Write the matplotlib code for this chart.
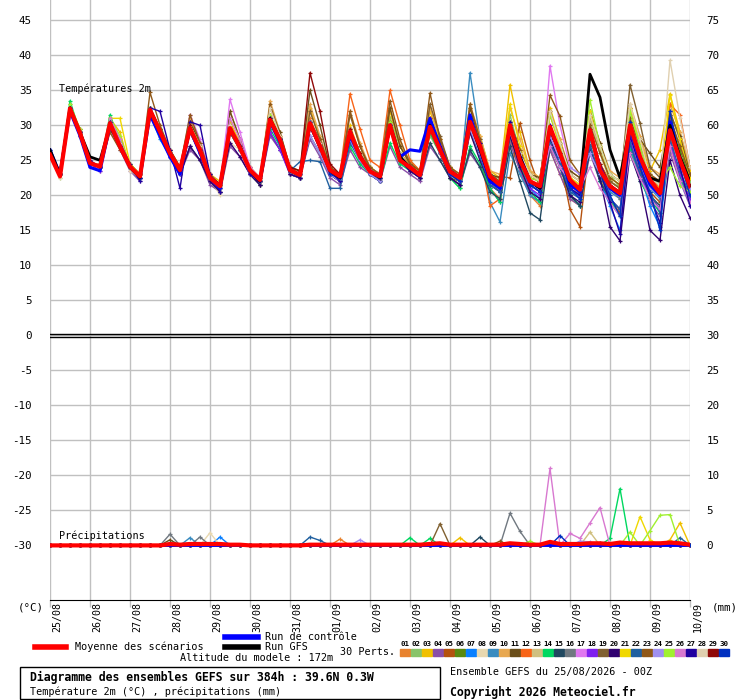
import numpy as np
import matplotlib
matplotlib.use("Agg")
import matplotlib.pyplot as plt
from matplotlib.transforms import ScaledTranslation, blended_transform_factory
from matplotlib.patches import Rectangle
from matplotlib.lines import Line2D

plt.rcParams['font.family'] = ['DejaVu Sans Mono']
plt.rcParams['axes.unicode_minus'] = False

# run steps every 6h, 0..384h
hours = np.arange(0, 385, 6)
dates = ['25/08', '26/08', '27/08', '28/08', '29/08', '30/08', '31/08', '01/09', '02/09',
         '03/09', '04/09', '05/09', '06/09', '07/09', '08/09', '09/09', '10/09']

# temperatures 2m, perturbations 01..30
t01 = [26,23,33,29, 25,24,31,27.5, 24,23,32.5,29, 26,23,30,26.5, 22.5,21,30,27, 23,22,31.5,28, 24,23,31,27.5, 24,22,29.5,26, 23,22,31,26, 24.5,23,31,27, 23,22,29,25.5, 21,19.5,28,23.5, 20,18.5,26.5,23, 19.5,18.5,27,22.5, 19.5,17.5,27,23, 20,18,26.5,23, 19.5]
t02 = [26,22.5,32,29, 24.5,24,30,27, 24.5,23,31.5,28.5, 26,24,29,26, 22,21,29,26.5, 23.5,22,30.5,28, 23,22.5,30,27, 23,22,28,25, 23.5,22,31,27, 25,23.5,28.5,26, 22.5,21,31,27.5, 23,22,31.5,26, 22,21,28,25, 22.5,21.5,30.5,26.5, 23,21,31,26, 23,21.5,30,26, 22]
t03 = [26,23,32.5,29.5, 24.5,24,31,29, 24,23,32,29.5, 26.5,24,30,27, 23,22,30.5,27.5, 24,22.5,31.5,28.5, 24,23.5,32.5,28, 23.5,23,30,26, 24,23,32,27, 24.5,23.5,32,28, 24,23,32.5,28.5, 23.5,22.5,35.8,29, 23.5,22.5,32.5,28, 23,22,31.5,27, 23,22,32.5,28, 23.5,26.5,34.5,29, 23.5]
t04 = [26,23,32,28.5, 24,23.5,29.5,26.5, 23.5,22,31.5,28.5, 25.5,23,26.5,25, 21.5,20.5,27,25.5, 23,21.5,28.5,26.5, 23,22.5,28,25.5, 22.5,21.5,26.5,24, 23,22,27,24, 23,22,27,25, 22.5,21.5,26,24, 21,19,27.5,23.5, 20,19,26.5,23, 19.5,18.5,26,22, 19,17,27,22.5, 19,17,26,22, 18.5]
t05 = [26,23,32.5,29, 24.5,24,30.5,27, 24,22.5,32.5,29.5, 26,23.5,30,27, 23,21.5,29.5,27, 23.5,22,31,28, 23.5,23,30.5,27.5, 23.5,22.5,29,26, 23,22.5,29.5,25.5, 24,23,30,27, 23,22,30,26.5, 22.5,22.7,22.5,30.3, 25,21,28,25, 18,15.5,28,24, 19,17.5,27.5,23.5, 20.5,19,28.5,24.5, 21]
t06 = [26,23,32.5,29, 24.5,24,30,27, 24,22.5,32,28.5, 25.5,23,29,26, 22,20.5,29,26.5, 23,21.5,30.5,27.5, 23,22.5,30,27, 23,22,29,25.5, 24,23,30.5,26, 24,22.5,29,26, 22.5,22,31,27.5, 22,21,30,24, 21.5,20.5,29,26, 22,20,28.5,24.5, 22,21,32,27, 22.5,21,31.5,26.5, 22.5]
t07 = [26.5,23,32.5,28.5, 24.5,24,30,27, 24,23,31.5,28, 25.5,23.5,29.5,26, 22.5,21.5,29.5,27, 23.5,22,31,28, 23.5,23,30,27, 23,22.5,28.5,25.5, 23.5,22.5,30,25.5, 24,23,29.5,26.5, 23.5,22.5,31,27, 22,21,30,25, 21,19.5,27.5,25, 20,18.5,27,22, 18.5,15,27,23, 18.5,15.5,28,22, 19]
t08 = [25.5,22.5,32,28.5, 24,23.5,29.5,27, 23.5,22.5,31.5,28.5, 26,24,30,27, 22.5,20,27.5,26.5, 23.5,22,30.5,27.5, 23.5,23,30,27, 24,23,29.5,26, 23.5,23,30,25.5, 24,23,30.5,26, 23,22,30,26, 22,21.5,29,25.5, 23,22,31.5,27, 22.5,21.5,31,26, 22.5,21.5,32,27, 23,22,32,27.5, 23]
t09 = [26,23,32.5,29, 24.5,24,30.5,27, 24,23,32,29, 26,23.5,29.5,26.5, 22.5,21,29.5,26.5, 23.5,22,31,28, 23,22.5,30,27, 23,22,29,25.5, 23,22,30,25, 24,23,30,26.5, 23,22,37.5,28, 19,16.2,26,23, 20,19,28,24, 20.5,20,28,23.5, 20.5,19.5,29,24, 21,19.5,28,24.5, 20.5]
t10 = [26,23,32.5,29, 24.5,24.5,31,27.5, 24,23,32.5,29.5, 26.5,24,31,27.5, 23,21.5,32,28, 24,22.5,33.5,29, 24,23.5,33,28.5, 24,23,32,27.5, 24,23,32.5,27.5, 24.5,23.5,32.5,28, 24,23,33,28.5, 23.5,23,32.5,28, 23.5,22.5,32,28, 23.5,22.5,32,27.5, 23.5,22.5,33,28.5, 24,23,33,29, 24]
t11 = [26,23,32.5,29.5, 24.5,24,30.5,27.5, 24.5,23,32.5,29.5, 26.5,24,30.5,27.5, 23,21.5,32,28, 24,22.5,32.5,29, 24,23.5,35,30, 24,23,29.5,26, 23.5,23,32.5,27, 24.5,23.5,31,27.5, 23.5,22.5,32.5,27.5, 23,22.5,30.5,26.5, 23,22.5,31.5,27.5, 23.5,22.5,32,27.5, 23,22,32.5,28, 26,24,31.5,28.5, 23]
t12 = [26,23,32.5,29, 24.5,24,30.5,27, 24,23,32,29, 26,23.5,30,26.5, 22.5,21.5,30,27, 23.5,22,31,28, 23.5,23,30.5,27.5, 24,23,34.5,29.5, 25,24,35,30, 25,23.5,31,27, 23.5,22.5,30,26, 18.5,19.5,28,25, 22,21,29.5,26, 22,21,29.5,24.5, 22,21,29.5,25, 22.5,21,33,31.5, 24]
t13 = [26,23,32.5,29, 24.5,24,31,28, 24,23,32,29, 26,23.5,30,27, 22.5,21.5,30,27, 23.5,22.5,31,28, 23.5,23,30.5,27.5, 23.5,22.5,29,26, 23.5,22.5,30,25.5, 24,23,30.5,27, 23.5,22.5,30.5,27, 22.5,21.5,30.5,26, 22,21,29.5,26, 22.5,21.5,31,26, 22,21,31,26.5, 22,20.5,30,25.5, 21.5]
t14 = [26,23,33.5,29, 24.5,24,31.5,27.5, 24,23,32,29, 26,23.5,29.5,26.5, 22.5,21,29.5,26.5, 23.5,22,29.5,27, 23.5,22.5,30,27, 23,22.5,27,24.5, 23,22,27.5,24.5, 23.5,22.5,29,26, 22.5,21,27,24.5, 21,19,28.5,24.5, 20.5,19,27,24, 20,18.5,27,22, 19.5,17,26.5,22, 19.5,17.5,27,22.5, 19]
t15 = [26,23,32,28.5, 24.5,24,30,27, 24,22.5,31.5,28.5, 25.5,23,27,25, 22,21,29,26.5, 23,21.5,29,26.5, 23.5,22.5,28.5,26, 23,22,28.5,25.5, 23,22,29.5,25, 23.5,22.5,27.5,25, 22.5,21.5,26.5,24, 20.5,19.5,27,22, 17.5,16.5,27,24, 20,18.5,26.5,22, 19.5,18,27.5,23, 20,18.5,27,23, 19.5]
t16 = [26,23,32.5,29, 24.5,24,30.5,27, 24,23,32,29, 25.5,23,29.5,26, 22,20.5,29,26.5, 23.5,22,31,28, 23,22.5,30,27, 23,22,29,25.5, 23.5,22.5,30,25, 24,23,30.5,26.5, 23.5,22.5,30.5,26.5, 22,20.5,28,25, 22,21,29.5,26, 21,20,29,23.5, 21,19.5,29.5,24.5, 21.5,20,29,24.5, 21]
t17 = [26,23,32.5,29, 24.5,24,30.5,27, 24,23,32,29, 26,23.5,31.5,28, 23,21.5,33.7,29, 24,22.5,31,28, 23.5,23,30.5,27, 23.5,22.5,29.5,26, 23.5,22.5,30,25.5, 24,23,30.5,27, 23,22,30.5,27.2, 22.5,21.5,30,25.5, 21.5,20.5,38.5,30, 24,23,26,23, 21.5,20.5,29.5,24.5, 21.5,20.5,29.5,24.5, 21]
t18 = [26,23,32,28.5, 24.5,23.5,30,27, 24,22.5,31.5,28.5, 25.5,23,29,26, 22,21,29.5,26.5, 23,22,29,26.5, 23,22.5,30,26.5, 23,22,28.5,25, 23,22,29.5,25, 23.5,22.5,29.5,26, 23,22,29.5,26, 22,21,29.5,25, 21,20,27.5,24, 21,20,29,23.5, 19.5,18,28,23, 20,18,27.5,23, 19.5]
t19 = [26,23,32.5,29, 24.5,24,30.5,27, 24,23,32.5,29.5, 26,23.5,30,27, 22.5,21.5,30,27, 23.5,22,31,28, 23.5,23,32,28, 23.5,22.5,31.5,27, 23.5,22.5,30.5,26, 24,23,33,28.5, 24,22.5,30.5,27, 22.5,21.5,30,26, 23,22,32,27.5, 23,22,31.5,27, 22,21,35.8,30.3, 24,22.5,32,28, 22.5]
t20 = [26,23,32,28.5, 24.5,24,30,27, 24,22.5,31.5,28.5, 25.5,23,27,25, 22,20.5,27.5,25.5, 23,21.5,30.5,27.5, 23,22.5,30,26.5, 23,22,28.5,25, 23,22,29.5,25, 23.5,22.5,29.5,26, 22.5,21.5,29,25, 21.5,20.5,28.5,24, 20.5,19.5,28,24.5, 20,19,27,22.5, 15.5,13.5,26,22, 15,13.6,25,20, 16.8]
t21 = [26,23,32.5,29, 24.5,24,31,31, 24.5,23,32,29, 26,23.5,30,27, 22.5,21.5,30,27, 23.5,22,31,28, 23.5,23,30.5,27.5, 23.5,22.5,29,26, 23.5,22.5,30,25.5, 24,23,30,26.5, 23.5,22.5,30.5,27, 22.5,21.5,33,27, 23,22,31.5,27, 22.5,21.5,32,27, 22.5,21.5,32.5,27.5, 22,21,34.4,28, 22.5]
t22 = [26,23,32.5,29, 24.5,24,30,27, 24,23,32,29, 26,23.5,29.5,26.5, 22.5,21.5,29.5,27, 23.5,22,31,28, 23.5,24.8,25,24.8, 21,21,27.5,25, 23,22,29.5,25.5, 24,23,30,26.5, 23,22,29.5,25.5, 21.5,20.5,29.5,25, 21.5,20.5,27.5,24.5, 20.5,19.5,27,23, 19.5,18,27.5,23, 20.5,17.5,28,23.5, 20]
t23 = [26,23,32.5,29, 24.5,24,29,26.5, 24,23,34.7,30, 26.5,24,31.5,27.5, 23,21.5,30,27, 23.5,22.5,33,28.5, 24,23,30.5,28, 24,23,32,27, 24,23,33.5,28, 24.5,23.5,34.6,28, 24,23,33,28, 23,22,30,26.5, 22.5,22,34.3,31.3, 25,23,30,26, 22.5,21.5,31,27, 23,22,31,27, 23]
t24 = [26,23,32,28.5, 24.5,24,30,27, 24,23,31.5,28.5, 25.5,23,29.5,26, 22.5,21,29.5,26.5, 23,22,30.5,27.5, 23.5,23,28.5,26, 23,22,28,25, 23,22,29.5,25.5, 24,23,29.5,26, 23,22,29.5,26, 22,21,29,25, 22,21,28.5,25, 24,23,26,23, 21,20,28.5,24, 21,20,29,24, 21]
t25 = [26,23,33,29.5, 24.5,24,31,28.5, 24,23,32.5,29, 26,23.5,30,27, 22.5,21.5,30,27, 23.5,22,31.5,28, 23.5,23,30.5,27.5, 23.5,22.5,29.5,26, 23.5,22.5,30.5,26, 24,23,30.5,27, 23.5,22.5,30.5,27, 22.5,21.5,30,26, 22.5,22,31.5,27.5, 22,21,33.6,27, 23,22,32,27, 22.5,22,24,21.3, 20.5]
t26 = [26,23,32.5,29, 24.5,24,31,28, 24,23,32,29, 26,23.5,30,26.5, 22.5,21,31,28, 23.5,22,31,28, 23.5,23,30.5,27, 23.5,22.5,29,25.5, 23.5,22.5,30,25.5, 24,23,30,26.5, 23,22,30,26, 22,21,29.5,26, 22,21,27,24, 22,21,24,21, 19,17,26,22.5, 19.5,18,27,22, 19]
t27 = [26.5,23,32.5,29, 25,24,30.5,27.5, 24.5,22,32.5,32, 26.5,21,30.5,30, 23,20.5,29,27, 23,22,30.5,28, 23.5,23,30.5,27.5, 23.5,22,29,25.5, 23.5,22.5,30,25.5, 24,23,30,27, 23,22,31,27.5, 22,21,30.5,25, 21.5,20.5,30,26, 21,20,29,23.5, 19,14.5,28.5,24, 20,16,30,24, 18.5]
t28 = [26,23,32.5,29, 24.5,24,30.5,27.5, 24,23,32,29, 26,23.5,30,27, 22.5,21.5,30,27, 23.5,22,32.5,28.5, 23.5,23,30.5,27.5, 23.5,22.5,29.5,26, 23.5,22.5,30,26, 24,23,30.5,27, 23.5,22.5,30.5,27, 22.5,21.5,30,26, 23,22,32,27.5, 23,22,31.5,27, 23,22,33,28, 22.5,21.5,39.3,31, 24]
t29 = [26,23,32.5,29, 24.5,24,30.5,27, 24,23,32,29, 26,23.5,30,26.5, 22.5,21.5,29.5,27, 23.5,22,31,28, 24,23.5,37.5,32, 24.5,23,29.5,26, 23.5,22.5,30,25.5, 24,23,30.5,27, 23.5,22.5,30.5,27, 22.5,21.5,30,25.5, 22,21,29.5,26, 21.5,20.5,29.5,24.5, 21.5,20.5,30,25, 22,20.5,30,25, 21.5]
t30 = [26,23,32.5,29, 24.5,24,30.5,27, 24,22.5,32,29, 26,23.5,29.5,26.5, 22.5,21,29.5,26.5, 23.5,22,31,28, 23.5,23,30.5,27, 23,22.5,29,25.5, 23.5,22.5,30,25.5, 24,23,30,26.5, 23,22,30.5,26.5, 22,21,30,25.5, 21.5,20.5,29.5,25.5, 21,19.5,29,23.5, 20,17,30.5,24, 20.5,15,32,25, 20]

ctrl = [26.5,23,32,28.5, 24,23.5,30,27, 24,22.5,31.5,28.5, 25.5,23,29.5,26, 22.5,21,29.5,27, 23.5,22,30.5,27.5, 23.5,23,30,27, 23.5,22.5,28.5,25.5, 23.5,22.5,30,25.5, 26.5,26.3,31,27, 23.5,22.5,31.5,26.5, 22,21,30,25.5, 22,21,29.5,26, 21.5,20.5,29,24, 21,20,29.5,25, 21.5,20,30.5,25, 21.5]
gfs = [26.5,23,32.5,29, 25.5,25,30,27, 24,22.5,32,29, 26,23.5,29.5,26.5, 22.5,21.5,29.5,27, 23.5,22,31,28, 23.5,23,30,27, 23.5,22.5,29,25.5, 23.5,22.5,30,25.5, 24,23,30,26.5, 23.5,22.5,30.5,26.5, 22.5,21.5,30,25.5, 22,21,29.5,26, 22,21,37.3,34, 26.5,22.5,30,25.5, 22.5,22,30,25.5, 22]
moy = [25.8,22.7,32.4,28.9, 24.6,24.1,30.3,27.0, 24.1,22.7,32.2,29.1, 26.0,23.6,29.6,26.5, 22.5,21.3,29.6,26.8, 23.6,22.2,30.8,27.9, 23.6,22.9,30.3,27.0, 23.6,22.7,29.1,25.5, 23.4,22.7,30.0,25.0, 24.0,22.9,29.8,26.5, 23.4,22.5,30.5,27.0, 22.7,21.5,30.0,25.0, 22.0,21.3,29.8,26.0, 22.2,20.8,29.3,23.6, 21.3,20.3,30.0,25.5, 22.2,20.3,29.3,25.0, 21.3]

# precipitation (mm): member -> (step, mm), other steps dry
rain = {1: [(29, 0.9)],
        3: [(41, 1.1), (62, 0.8), (63, 3.2)],
        7: [(17, 1.2)],
        8: [(16, 1.8)],
        9: [(14, 1.1)],
        11: [(12, 0.8)],
        13: [(54, 1.9)],
        14: [(36, 1.1), (38, 1.0), (56, 1.0), (57, 8.1)],
        15: [(43, 1.2), (55, 0.4)],
        16: [(12, 1.6), (15, 1.2), (46, 4.6), (47, 2.0)],
        19: [(39, 3.1)],
        21: [(59, 4.1), (60, 0.8)],
        22: [(26, 1.2), (27, 0.7), (63, 1.1)],
        23: [(45, 0.6)],
        24: [(31, 0.8), (53, 0.6), (54, 0.5)],
        25: [(48, 0.6), (58, 1.9), (60, 2.1), (61, 4.3), (62, 4.4)],
        26: [(50, 11.0), (52, 1.7), (53, 1.0), (54, 3.2), (55, 5.4)],
        30: [(51, 1.4)]}
moy_pr = [0,0,0,0, 0,0,0,0, 0,0,0,0, 0.2,0.1,0.2,0.2, 0.2,0.2,0.1,0.1, 0,0,0,0, 0,0,0.1,0.1, 0.1,0.1,0.1,0.1, 0.1,0.1,0.1,0.1, 0.1,0.1,0.2,0.3, 0.1,0.1,0.1,0.1, 0.1,0.1,0.3,0.2, 0.1,0.1,0.5,0.2, 0.2,0.2,0.3,0.3, 0.2,0.4,0.3,0.3, 0.3,0.3,0.4,0.3, 0.1]

colors = ['#e8822e', '#88c46a', '#f0c000', '#8a4fa8', '#b5520e', '#5a8a10', '#0a80ff', '#e8d8b0',
          '#3a8cc0', '#e8a850', '#6a4e1a', '#f86418', '#d0c080', '#00d860', '#204860', '#707880',
          '#e078f0', '#8020f0', '#806030', '#300070', '#f0d800', '#2060a0', '#905818', '#a090f0',
          '#a0f030', '#d878d0', '#2000a0', '#e0d0b0', '#900808', '#0030c0']

temps = [t01, t02, t03, t04, t05, t06, t07, t08, t09, t10, t11, t12, t13, t14, t15,
         t16, t17, t18, t19, t20, t21, t22, t23, t24, t25, t26, t27, t28, t29, t30]

W, H = 740, 700
fig = plt.figure(figsize=(W / 100, H / 100), dpi=100)
ax = fig.add_axes([50 / W, 100 / H, 640 / W, 600 / H])
ax.set_xlim(0, 384)
ax.set_ylim(-37.8, 47.9)
ax.set_xticks(np.arange(0, 385, 24))
ax.set_xticklabels([])
ax.set_yticks(np.arange(-30, 46, 5))
ax.grid(True, color='#c0c0c0', lw=1)
ax.set_axisbelow(True)
for s in ['top', 'left', 'right']:
    ax.spines[s].set_visible(False)
ax.spines['bottom'].set_color('black')
ax.tick_params(axis='y', length=0, pad=13, labelsize=7.8)
ax.tick_params(axis='x', length=5, color='#c0c0c0', width=1)

tr = blended_transform_factory(ax.transData, ax.transAxes) + ScaledTranslation(7.5 / 100, -1.5 / 100, fig.dpi_scale_trans)
for h, d in zip(np.arange(0, 385, 24), dates):
    ax.text(h, 0, d, transform=tr, rotation=90, ha='center', va='top', fontsize=7.2)

# zero line, double black
ax.axhline(0.17, color='black', lw=1)
ax.axhline(-0.17, color='black', lw=1)

for t, c in zip(temps, colors):
    ax.plot(hours, t, color=c, lw=1.0, marker='+', ms=3, mew=0.9)
ax.plot(hours, ctrl, color='#0000ff', lw=2.2)
ax.plot(hours, gfs, color='black', lw=2)
ax.plot(hours, moy, color='#ff0000', lw=3)

ax.text(5.4, 34.8, 'Températures 2m', fontsize=7.3, va='baseline')
ax.text(5.4, -29.1, 'Précipitations', fontsize=7.3, va='baseline')

# precipitation on the right scale
ax2 = ax.twinx()
ax2.set_ylim(-7.8, 77.9)
ax2.set_yticks(np.arange(0, 76, 5))
ax2.tick_params(axis='y', length=0, pad=12, labelsize=7.8)
for s in ax2.spines.values():
    s.set_visible(False)
for i, c in enumerate(colors):
    pr = np.zeros(len(hours))
    for k, v in rain.get(i + 1, []):
        pr[k] = v
    ax2.plot(hours, pr, color=c, lw=1.0, marker='+', ms=3, mew=0.9)
ax2.plot(hours, np.zeros(len(hours)), color='#0000ff', lw=2)
ax2.plot(hours, moy_pr, color='#ff0000', lw=3)


def ft(x, y, s, **kw):
    fig.text(x / W, 1 - y / H, s, **kw)


ft(31, 608, '(°C)', ha='center', va='center', fontsize=7.8)
ft(725, 608, '(mm)', ha='center', va='center', fontsize=7.8)

fig.add_artist(Line2D([35 / W, 66 / W], [1 - 647 / H] * 2, color='#ff0000', lw=4))
ft(75, 647, 'Moyenne des scénarios', va='center', fontsize=7.3)
fig.add_artist(Line2D([225 / W, 258 / W], [1 - 636.5 / H] * 2, color='#0000ff', lw=4))
ft(265, 637, 'Run de contrôle', va='center', fontsize=7.3)
fig.add_artist(Line2D([225 / W, 258 / W], [1 - 647 / H] * 2, color='black', lw=4))
ft(265, 647, 'Run GFS', va='center', fontsize=7.3)
ft(340, 652, '30 Perts.', va='center', fontsize=7.3)
for i, c in enumerate(colors):
    x0 = 400 + 11 * i
    fig.add_artist(Rectangle((x0 / W, 1 - 656 / H), 10 / W, 7 / H, color=c, transform=fig.transFigure))
    ft(x0 + 5, 644, '%02d' % (i + 1), ha='center', va='center', fontsize=5.3, weight='bold')
ft(257, 658, 'Altitude du modele : 172m', ha='center', va='center', fontsize=7.3)

fig.add_artist(Rectangle((20 / W, 1 - 699 / H), 420 / W, 32 / H, fill=False, ec='black', lw=1,
                         transform=fig.transFigure))
ft(30, 677, 'Diagramme des ensembles GEFS sur 384h : 39.6N 0.3W', va='center', fontsize=8.3, weight='bold')
ft(30, 692, 'Température 2m (°C) , précipitations (mm)', va='center', fontsize=7.3)
ft(450, 672, 'Ensemble GEFS du 25/08/2026 - 00Z', va='center', fontsize=7.3)
ft(450, 692, 'Copyright 2026 Meteociel.fr', va='center', fontsize=8.3, weight='bold')

fig.savefig('out.png', dpi=100)
